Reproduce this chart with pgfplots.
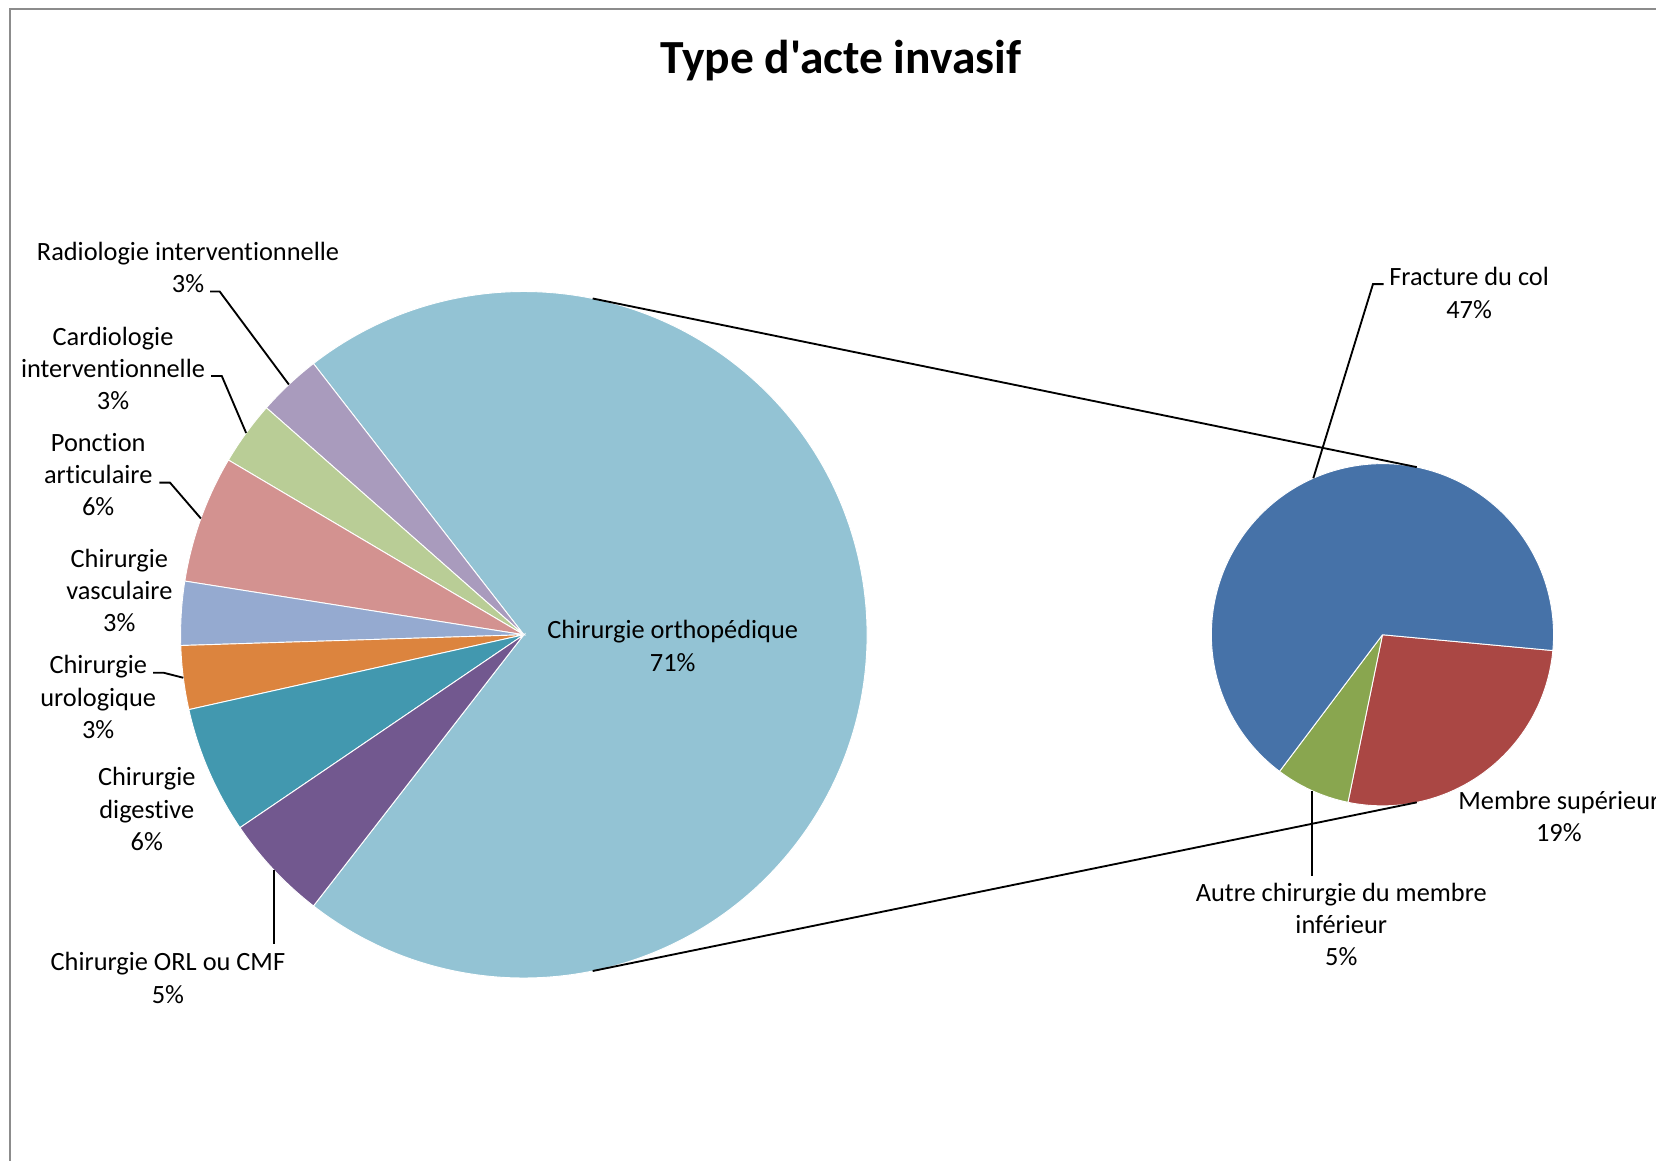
\documentclass[border=0pt]{standalone}
\usepackage{pgfplots}
\pgfplotsset{compat=1.18}
\usepackage{fontspec}
\setmainfont{Carlito}[Ligatures=NoCommon]
\newfontfamily\carl{Carlito}[Ligatures=NoCommon]

% slice colours
\definecolor{cOrtho}{HTML}{93C3D4}
\definecolor{cRadio}{HTML}{A99BBD}
\definecolor{cCardio}{HTML}{B9CD96}
\definecolor{cPonction}{HTML}{D39290}
\definecolor{cVasc}{HTML}{95AAD0}
\definecolor{cUro}{HTML}{DC843E}
\definecolor{cDig}{HTML}{4298AF}
\definecolor{cORL}{HTML}{72588F}
\definecolor{cCol}{HTML}{4672A8}
\definecolor{cSup}{HTML}{AA4744}
\definecolor{cAutre}{HTML}{89A64F}
\definecolor{frame}{HTML}{8C8C8C}

% main pie: share of each type of invasive act (%)
\def\vOrtho{71}
\def\vRadio{3}
\def\vCardio{3}
\def\vPonction{6}
\def\vVasc{3}
\def\vUro{3}
\def\vDig{6}
\def\vORL{5}
% secondary pie: breakdown of orthopaedic surgery (% of all acts)
\def\vCol{47}
\def\vSup{19}
\def\vAutre{5}

% slice boundaries of the main pie (degrees, counter-clockwise)
\pgfmathsetmacro\angA{\vOrtho*1.8}
\pgfmathsetmacro\angB{\angA+\vRadio*3.6}
\pgfmathsetmacro\angC{\angB+\vCardio*3.6}
\pgfmathsetmacro\angD{\angC+\vPonction*3.6}
\pgfmathsetmacro\angE{\angD+\vVasc*3.6}
\pgfmathsetmacro\angF{\angE+\vUro*3.6}
\pgfmathsetmacro\angG{\angF+\vDig*3.6}
\pgfmathsetmacro\angH{\angG+\vORL*3.6}
% slice boundaries of the secondary pie (clockwise)
\pgfmathsetmacro\rsc{360/(\vCol+\vSup+\vAutre)}
\def\secA{-5.3}
\pgfmathsetmacro\secB{\secA-\vSup*\rsc}
\pgfmathsetmacro\secC{\secB-\vAutre*\rsc}
\pgfmathsetmacro\secD{\secC-\vCol*\rsc}
% mid angles used by the leader lines
\pgfmathsetmacro\mRadio{(\angA+\angB)/2}
\pgfmathsetmacro\mCardio{(\angB+\angC)/2}
\pgfmathsetmacro\mPonction{(\angC+\angD)/2}
\pgfmathsetmacro\mUro{(\angE+\angF)/2}
\pgfmathsetmacro\mORL{(\angG+\angH)/2}
\pgfmathsetmacro\mCol{(\secC+\secD)/2}
\pgfmathsetmacro\mAutre{(\secB+\secC)/2}

\newcommand\labfont{\carl\fontsize{7.1pt}{8.7pt}\selectfont}

\begin{document}
\begin{tikzpicture}
\begin{axis}[
  hide axis, scale only axis,
  width=156.8mm, height=109.9mm,
  xmin=0, xmax=1568, ymin=0, ymax=1099,
  y dir=reverse, clip=true,
]
\coordinate (SW) at (rel axis cs:0,0);
\coordinate (NE) at (rel axis cs:1,1);

% chart frame
\draw[frame, line width=0.55pt] (axis cs:9.5,1110) -- (axis cs:9.5,8.5) -- (axis cs:1580,8.5);

% main pie (centre 496,601)
\def\Lc{axis cs:496,601}
\def\LR{32.5mm}
\fill[cOrtho, draw=white, line width=0.25pt] (\Lc) -- ++(-\angA:\LR) arc[start angle=-\angA, end angle=\angA, radius=\LR] -- cycle;
\fill[cRadio, draw=white, line width=0.25pt] (\Lc) -- ++(\angA:\LR) arc[start angle=\angA, end angle=\angB, radius=\LR] -- cycle;
\fill[cCardio, draw=white, line width=0.25pt] (\Lc) -- ++(\angB:\LR) arc[start angle=\angB, end angle=\angC, radius=\LR] -- cycle;
\fill[cPonction, draw=white, line width=0.25pt] (\Lc) -- ++(\angC:\LR) arc[start angle=\angC, end angle=\angD, radius=\LR] -- cycle;
\fill[cVasc, draw=white, line width=0.25pt] (\Lc) -- ++(\angD:\LR) arc[start angle=\angD, end angle=\angE, radius=\LR] -- cycle;
\fill[cUro, draw=white, line width=0.25pt] (\Lc) -- ++(\angE:\LR) arc[start angle=\angE, end angle=\angF, radius=\LR] -- cycle;
\fill[cDig, draw=white, line width=0.25pt] (\Lc) -- ++(\angF:\LR) arc[start angle=\angF, end angle=\angG, radius=\LR] -- cycle;
\fill[cORL, draw=white, line width=0.25pt] (\Lc) -- ++(\angG:\LR) arc[start angle=\angG, end angle=\angH, radius=\LR] -- cycle;

% secondary pie (centre 1309,601)
\def\Rc{axis cs:1309,601}
\def\RR{16.2mm}
\fill[cSup, draw=white, line width=0.25pt] (\Rc) -- ++(\secA:\RR) arc[start angle=\secA, end angle=\secB, radius=\RR] -- cycle;
\fill[cAutre, draw=white, line width=0.25pt] (\Rc) -- ++(\secB:\RR) arc[start angle=\secB, end angle=\secC, radius=\RR] -- cycle;
\fill[cCol, draw=white, line width=0.25pt] (\Rc) -- ++(\secC:\RR) arc[start angle=\secC, end angle=\secD, radius=\RR] -- cycle;

% connector lines (outer tangents of both pies)
\pgfmathsetmacro\tang{acos((325-162)/813)}
\draw[black, line width=0.5pt] ([shift={(\tang:\LR)}]\Lc) -- ([shift={(\tang:\RR)}]\Rc);
\draw[black, line width=0.5pt] ([shift={(-\tang:\LR)}]\Lc) -- ([shift={(-\tang:\RR)}]\Rc);

% leader lines
\draw[black, line width=0.5pt] (axis cs:199,276) -- (axis cs:208,276) -- ([shift={(\mRadio:\LR)}]\Lc);
\draw[black, line width=0.5pt] (axis cs:200,356) -- (axis cs:210,356) -- ([shift={(\mCardio:\LR)}]\Lc);
\draw[black, line width=0.5pt] (axis cs:151,457) -- (axis cs:161,457) -- ([shift={(\mPonction:\LR)}]\Lc);
\draw[black, line width=0.5pt] (axis cs:145,637) -- (axis cs:155,637) -- ([shift={(\mUro:\LR)}]\Lc);
\draw[black, line width=0.5pt] ([shift={(\mORL:\LR)}]\Lc) coordinate (pORL) -- (pORL |- {axis cs:0,894});
\draw[black, line width=0.5pt] (axis cs:1310,269) -- (axis cs:1300,269) -- ([shift={(\mCol:\RR)}]\Rc);
\draw[black, line width=0.5pt] ([shift={(\mAutre:\RR)}]\Rc) coordinate (pAutre) -- (pAutre |- {axis cs:0,829});

% title
\node[font=\carl\fontsize{12.8pt}{15pt}\selectfont\bfseries] at (axis cs:796,57) {Type d'acte invasif};

% data labels
\node[font=\labfont, align=center] at (axis cs:178,253) {Radiologie interventionnelle\\3\%};
\node[font=\labfont, align=center] at (axis cs:107,349) {Cardiologie\\interventionnelle\\3\%};
\node[font=\labfont, align=center] at (axis cs:93,449.5) {Ponction\\articulaire\\6\%};
\node[font=\labfont, align=center] at (axis cs:113,559) {Chirurgie\\vasculaire\\3\%};
\node[font=\labfont, align=center] at (axis cs:93,660) {Chirurgie\\urologique\\3\%};
\node[font=\labfont, align=center] at (axis cs:139,766) {Chirurgie\\digestive\\6\%};
\node[font=\labfont, align=center] at (axis cs:159,926) {Chirurgie ORL ou CMF\\5\%};
\node[font=\labfont, align=center] at (axis cs:637,611.5) {Chirurgie orthopédique\\71\%};
\node[font=\labfont, align=center] at (axis cs:1391,277.5) {Fracture du col\\47\%};
\node[font=\labfont, align=center] at (axis cs:1476,773) {Membre supérieur\\19\%};
\node[font=\labfont, align=center] at (axis cs:1270,875.5) {Autre chirurgie du membre\\inférieur\\5\%};
\end{axis}
\pgfresetboundingbox
\useasboundingbox (SW) rectangle (NE);
\end{tikzpicture}
\end{document}
